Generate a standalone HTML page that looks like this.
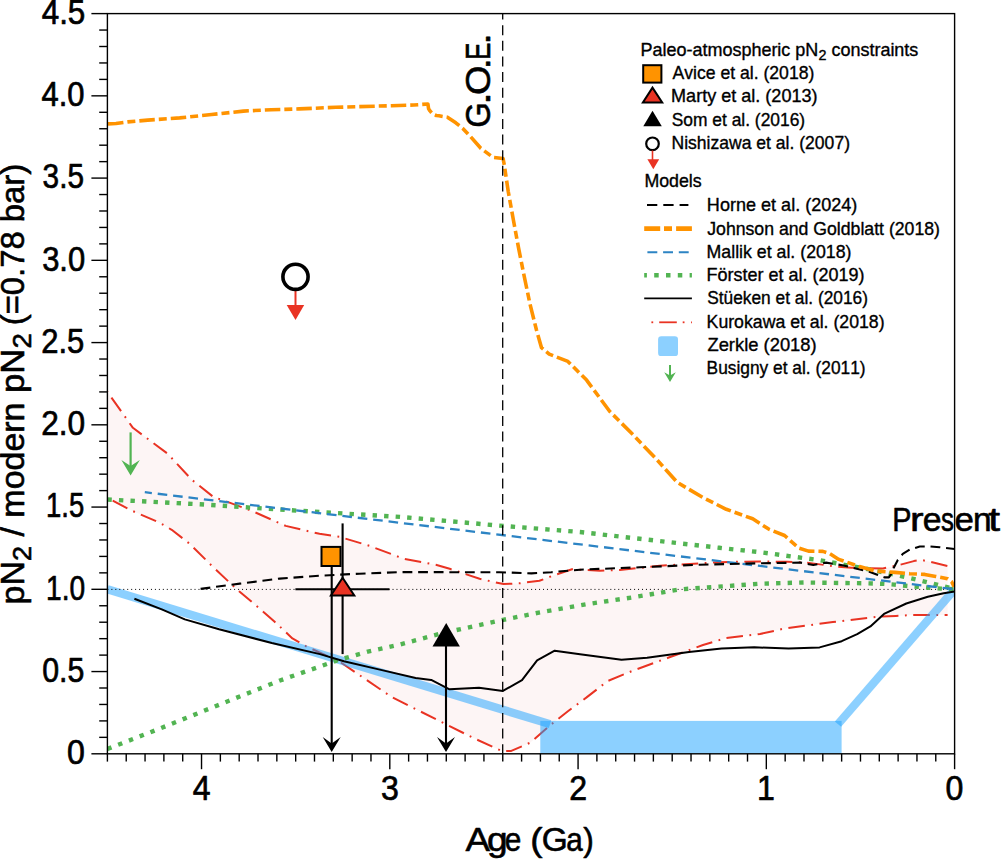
<!DOCTYPE html><html><head><meta charset="utf-8"><style>html,body{margin:0;padding:0;background:#fff}svg{display:block}text{font-kerning:none}</style></head><body>
<svg width="1004" height="859" viewBox="0 0 1004 859" font-family="Liberation Sans">
<rect width="1004" height="859" fill="#fff"/>
<defs><clipPath id="pc"><rect x="107.4" y="13.6" width="847.2" height="740.2"/></clipPath></defs>
<g clip-path="url(#pc)">
<polygon points="107.4,391.9 132.9,427.8 167.7,453.7 191.6,479.6 213.5,497.0 227.5,501.9 251.8,510.9 285.7,525.9 319.5,533.8 339.4,536.8 369.3,545.8 403.9,558.8 435.8,564.8 449.7,568.8 479.6,578.8 503.5,584.1 519.4,583.3 539.4,580.8 555.3,574.8 572.0,569.3 599.8,570.7 619.8,570.1 659.6,565.7 719.4,562.2 760.0,561.4 787.8,561.8 806.9,562.6 824.5,565.0 835.6,566.6 851.6,567.7 867.5,568.2 882.9,568.4 889.9,566.9 897.8,565.4 913.8,561.1 920.8,559.9 928.7,561.4 947.6,566.0 947.6,615.1 911.9,615.1 895.9,615.9 881.5,616.4 832.9,622.0 784.2,628.6 760.0,634.0 726.3,638.0 703.0,645.0 668.1,657.8 633.1,670.6 607.5,681.1 586.6,697.4 567.9,711.3 551.6,724.1 530.4,742.6 511.3,750.9 501.7,750.9 473.0,737.8 444.3,723.4 391.7,697.1 339.1,661.3 306.2,646.4 292.4,638.4 274.1,621.2 259.4,608.4 239.4,591.5 229.5,582.5 211.6,565.6 189.6,543.7 171.7,529.8 159.8,522.8 129.9,509.8 107.4,497.9" fill="#FDF5F5"/>
<polyline points="107.4,391.9 132.9,427.8 167.7,453.7 191.6,479.6 213.5,497.0 227.5,501.9 251.8,510.9 285.7,525.9 319.5,533.8 339.4,536.8 369.3,545.8 403.9,558.8 435.8,564.8 449.7,568.8 479.6,578.8 503.5,584.1 519.4,583.3 539.4,580.8 555.3,574.8 572.0,569.3 599.8,570.7 619.8,570.1 659.6,565.7 719.4,562.2 760.0,561.4 787.8,561.8 806.9,562.6 824.5,565.0 835.6,566.6 851.6,567.7 867.5,568.2 882.9,568.4 889.9,566.9 897.8,565.4 913.8,561.1 920.8,559.9 928.7,561.4 947.6,566.0" fill="none" stroke="#E93323" stroke-width="2" stroke-dasharray="16.6 6.5 1.8 6.5" stroke-dashoffset="-7" stroke-linejoin="round"/>
<polyline points="107.4,497.9 129.9,509.8 159.8,522.8 171.7,529.8 189.6,543.7 211.6,565.6 229.5,582.5 239.4,591.5 259.4,608.4 274.1,621.2 292.4,638.4 306.2,646.4 339.1,661.3 391.7,697.1 444.3,723.4 473.0,737.8 501.7,750.9 511.3,750.9 530.4,742.6 551.6,724.1 567.9,711.3 586.6,697.4 607.5,681.1 633.1,670.6 668.1,657.8 703.0,645.0 726.3,638.0 760.0,634.0 784.2,628.6 832.9,622.0 881.5,616.4 895.9,615.9 911.9,615.1 947.6,615.1" fill="none" stroke="#E93323" stroke-width="2" stroke-dasharray="16.6 6.5 1.8 6.5" stroke-dashoffset="-6" stroke-linejoin="round"/>
<g opacity="1"><rect x="540.3" y="720.9" width="301.3" height="32.9" fill="rgba(25,161,255,0.5)"/>
<line x1="107.4" y1="589.3" x2="550" y2="724.1" stroke="rgba(25,161,255,0.5)" stroke-width="8.3"/>
<line x1="838" y1="724.1" x2="954.6" y2="589.3" stroke="rgba(25,161,255,0.5)" stroke-width="8.3"/></g>
<line x1="107.4" y1="589.4" x2="954.6" y2="589.4" stroke="#000" stroke-width="1" stroke-dasharray="1 2.96"/>
<polyline points="107.4,499.5 200.0,504.3 299.6,510.8 400.0,516.9 499.5,525.6 580.0,532.0 639.7,538.8 719.4,547.8 760.0,552.2 819.7,560.2 867.5,569.0 904.8,576.9 927.7,582.3 939.7,585.3 954.6,589.0" fill="none" stroke="#52B452" stroke-width="4.4" stroke-dasharray="4.4 7.15"/>
<polyline points="107.4,749.0 160.0,728.5 219.5,704.6 279.3,680.7 339.0,659.8 367.8,651.7 398.8,644.8 439.5,633.8 499.3,620.6 540.0,612.4 586.6,604.2 633.1,597.3 679.7,589.4 726.3,586.1 760.0,583.7 803.7,582.5 867.5,583.3 882.9,583.8 894.4,584.6 905.8,585.8 917.8,586.8 929.7,587.8 941.2,588.6 954.6,589.2" fill="none" stroke="#52B452" stroke-width="4.4" stroke-dasharray="4.4 7.15"/>
<polyline points="144.8,492.2 954.6,589.3" fill="none" stroke="#2C84C4" stroke-width="2.3" stroke-dasharray="9.6 5.9" stroke-dashoffset="2.5"/>
<polyline points="134.4,598.8 161.8,609.4 184.8,619.4 219.1,629.3 271.8,643.0 320.0,654.1 343.9,661.3 379.8,669.6 415.6,678.0 431.2,679.9 449.5,689.3 479.0,687.7 502.9,690.9 522.0,680.2 537.1,660.3 554.7,650.7 580.0,654.2 621.5,659.7 647.1,657.8 689.0,652.0 721.6,648.5 754.2,647.3 788.6,648.5 819.6,647.4 841.7,641.2 857.2,634.1 870.4,626.4 884.0,613.9 906.3,603.5 927.8,596.8 943.7,593.2 954.6,591.4" fill="none" stroke="#000" stroke-width="2" stroke-linejoin="round"/>
<polyline points="200.6,588.9 239.8,583.6 279.7,578.6 319.5,575.7 359.4,573.7 400.0,572.1 459.7,572.2 499.5,572.2 531.4,573.4 551.3,572.2 580.0,569.7 639.7,567.3 699.4,564.7 760.0,563.3 800.6,562.6 813.3,565.0 826.1,562.6 843.6,565.5 861.1,569.8 870.0,571.9 877.9,574.9 884.9,577.4 888.9,577.4 890.9,574.4 893.9,567.4 897.8,559.9 902.8,553.9 909.8,549.5 919.8,546.5 929.7,546.5 939.7,547.2 954.6,549.0" fill="none" stroke="#000" stroke-width="2.1" stroke-dasharray="9.8 5.8" stroke-linejoin="round"/>
<polyline points="108.0,123.9 116.0,123.5 127.9,121.9 147.8,120.1 179.7,117.9 211.6,114.5 243.4,111.1 271.3,109.7 299.2,108.9 335.8,107.3 391.5,105.7 413.9,105.0 427.9,104.0 428.6,108.8 430.0,110.9 432.8,114.1 436.3,115.5 439.0,115.8 447.4,117.2 455.8,122.8 462.8,128.4 470.0,136.0 480.8,148.3 493.3,157.5 503.1,158.5 504.4,165.6 508.2,191.3 513.3,219.5 518.5,247.7 523.6,273.3 530.0,304.1 536.4,329.7 541.5,347.7 549.2,354.1 567.9,361.4 586.6,380.1 609.8,411.5 633.1,434.8 656.4,459.2 677.4,482.5 703.0,497.6 726.3,509.3 752.7,518.8 768.7,529.1 784.6,535.5 792.6,542.7 799.0,548.2 808.5,551.1 822.9,551.4 829.2,553.3 838.8,559.4 859.5,566.6 875.5,571.0 894.9,572.4 909.8,573.7 924.7,574.4 935.7,576.4 947.6,578.8 951.6,581.8 954.1,586.8" fill="none" stroke="#FF9300" stroke-width="3.6" stroke-dasharray="15.5 4 8 4" stroke-linejoin="round"/>
</g>
<line x1="502.7" y1="13.6" x2="502.7" y2="753.8" stroke="#000" stroke-width="1.3" stroke-dasharray="10 5.63" stroke-dashoffset="4.03"/>
<line x1="331.7" y1="566" x2="331.7" y2="745.8000000000001" stroke="#000" stroke-width="2.1"/>
<polygon points="322.7,737.1 331.7,752.1 340.7,737.1 331.7,743.4" fill="#000"/>
<line x1="446" y1="646" x2="446" y2="745.8000000000001" stroke="#000" stroke-width="2.1"/>
<polygon points="437.0,737.1 446,752.1 455.0,737.1 446,743.4" fill="#000"/>
<line x1="342.6" y1="523.4" x2="342.6" y2="654.1" stroke="#000" stroke-width="2.1"/>
<line x1="295.4" y1="589.3" x2="389.5" y2="589.3" stroke="#000" stroke-width="2.1"/>
<rect x="321.5" y="546.9" width="19" height="19.1" fill="#FF9300" stroke="#000" stroke-width="2"/>
<polygon points="342.6,577.8 330.9,595.4 354.3,595.4" fill="#E93323" stroke="#000" stroke-width="2" stroke-linejoin="miter"/>
<polygon points="446.2,623.1 432.5,646.6 459.9,646.6" fill="#000"/>
<line x1="295.5" y1="290" x2="295.5" y2="306" stroke="#E93323" stroke-width="2"/>
<polygon points="286.7,305.1 304.2,305.1 295.5,320.1" fill="#E93323"/>
<circle cx="295.5" cy="276.8" r="12.6" fill="none" stroke="#000" stroke-width="3.6"/>
<line x1="130.6" y1="432.4" x2="130.6" y2="469.6" stroke="#52B452" stroke-width="2.2"/>
<polygon points="121.39999999999999,460.1 130.6,475.6 139.79999999999998,460.1 130.6,466.1" fill="#52B452"/>
<g stroke="#000" stroke-width="1.4" fill="none">
<rect x="107.4" y="13.6" width="847.2" height="740.2"/>
<line x1="91.4" y1="753.80" x2="107.4" y2="753.80"/>
<line x1="99.2" y1="737.35" x2="107.4" y2="737.35"/>
<line x1="99.2" y1="720.90" x2="107.4" y2="720.90"/>
<line x1="99.2" y1="704.45" x2="107.4" y2="704.45"/>
<line x1="99.2" y1="688.00" x2="107.4" y2="688.00"/>
<line x1="91.4" y1="671.56" x2="107.4" y2="671.56"/>
<line x1="99.2" y1="655.11" x2="107.4" y2="655.11"/>
<line x1="99.2" y1="638.66" x2="107.4" y2="638.66"/>
<line x1="99.2" y1="622.21" x2="107.4" y2="622.21"/>
<line x1="99.2" y1="605.76" x2="107.4" y2="605.76"/>
<line x1="91.4" y1="589.31" x2="107.4" y2="589.31"/>
<line x1="99.2" y1="572.86" x2="107.4" y2="572.86"/>
<line x1="99.2" y1="556.41" x2="107.4" y2="556.41"/>
<line x1="99.2" y1="539.96" x2="107.4" y2="539.96"/>
<line x1="99.2" y1="523.52" x2="107.4" y2="523.52"/>
<line x1="91.4" y1="507.07" x2="107.4" y2="507.07"/>
<line x1="99.2" y1="490.62" x2="107.4" y2="490.62"/>
<line x1="99.2" y1="474.17" x2="107.4" y2="474.17"/>
<line x1="99.2" y1="457.72" x2="107.4" y2="457.72"/>
<line x1="99.2" y1="441.27" x2="107.4" y2="441.27"/>
<line x1="91.4" y1="424.82" x2="107.4" y2="424.82"/>
<line x1="99.2" y1="408.37" x2="107.4" y2="408.37"/>
<line x1="99.2" y1="391.92" x2="107.4" y2="391.92"/>
<line x1="99.2" y1="375.48" x2="107.4" y2="375.48"/>
<line x1="99.2" y1="359.03" x2="107.4" y2="359.03"/>
<line x1="91.4" y1="342.58" x2="107.4" y2="342.58"/>
<line x1="99.2" y1="326.13" x2="107.4" y2="326.13"/>
<line x1="99.2" y1="309.68" x2="107.4" y2="309.68"/>
<line x1="99.2" y1="293.23" x2="107.4" y2="293.23"/>
<line x1="99.2" y1="276.78" x2="107.4" y2="276.78"/>
<line x1="91.4" y1="260.33" x2="107.4" y2="260.33"/>
<line x1="99.2" y1="243.88" x2="107.4" y2="243.88"/>
<line x1="99.2" y1="227.44" x2="107.4" y2="227.44"/>
<line x1="99.2" y1="210.99" x2="107.4" y2="210.99"/>
<line x1="99.2" y1="194.54" x2="107.4" y2="194.54"/>
<line x1="91.4" y1="178.09" x2="107.4" y2="178.09"/>
<line x1="99.2" y1="161.64" x2="107.4" y2="161.64"/>
<line x1="99.2" y1="145.19" x2="107.4" y2="145.19"/>
<line x1="99.2" y1="128.74" x2="107.4" y2="128.74"/>
<line x1="99.2" y1="112.29" x2="107.4" y2="112.29"/>
<line x1="91.4" y1="95.84" x2="107.4" y2="95.84"/>
<line x1="99.2" y1="79.40" x2="107.4" y2="79.40"/>
<line x1="99.2" y1="62.95" x2="107.4" y2="62.95"/>
<line x1="99.2" y1="46.50" x2="107.4" y2="46.50"/>
<line x1="99.2" y1="30.05" x2="107.4" y2="30.05"/>
<line x1="91.4" y1="13.60" x2="107.4" y2="13.60"/>
<line x1="954.60" y1="753.8" x2="954.60" y2="769.2"/>
<line x1="935.77" y1="753.8" x2="935.77" y2="761.6"/>
<line x1="916.95" y1="753.8" x2="916.95" y2="761.6"/>
<line x1="898.12" y1="753.8" x2="898.12" y2="761.6"/>
<line x1="879.29" y1="753.8" x2="879.29" y2="761.6"/>
<line x1="860.47" y1="753.8" x2="860.47" y2="761.6"/>
<line x1="841.64" y1="753.8" x2="841.64" y2="761.6"/>
<line x1="822.81" y1="753.8" x2="822.81" y2="761.6"/>
<line x1="803.99" y1="753.8" x2="803.99" y2="761.6"/>
<line x1="785.16" y1="753.8" x2="785.16" y2="761.6"/>
<line x1="766.33" y1="753.8" x2="766.33" y2="769.2"/>
<line x1="747.51" y1="753.8" x2="747.51" y2="761.6"/>
<line x1="728.68" y1="753.8" x2="728.68" y2="761.6"/>
<line x1="709.85" y1="753.8" x2="709.85" y2="761.6"/>
<line x1="691.03" y1="753.8" x2="691.03" y2="761.6"/>
<line x1="672.20" y1="753.8" x2="672.20" y2="761.6"/>
<line x1="653.37" y1="753.8" x2="653.37" y2="761.6"/>
<line x1="634.55" y1="753.8" x2="634.55" y2="761.6"/>
<line x1="615.72" y1="753.8" x2="615.72" y2="761.6"/>
<line x1="596.89" y1="753.8" x2="596.89" y2="761.6"/>
<line x1="578.07" y1="753.8" x2="578.07" y2="769.2"/>
<line x1="559.24" y1="753.8" x2="559.24" y2="761.6"/>
<line x1="540.41" y1="753.8" x2="540.41" y2="761.6"/>
<line x1="521.59" y1="753.8" x2="521.59" y2="761.6"/>
<line x1="502.76" y1="753.8" x2="502.76" y2="761.6"/>
<line x1="483.93" y1="753.8" x2="483.93" y2="761.6"/>
<line x1="465.11" y1="753.8" x2="465.11" y2="761.6"/>
<line x1="446.28" y1="753.8" x2="446.28" y2="761.6"/>
<line x1="427.45" y1="753.8" x2="427.45" y2="761.6"/>
<line x1="408.63" y1="753.8" x2="408.63" y2="761.6"/>
<line x1="389.80" y1="753.8" x2="389.80" y2="769.2"/>
<line x1="370.97" y1="753.8" x2="370.97" y2="761.6"/>
<line x1="352.15" y1="753.8" x2="352.15" y2="761.6"/>
<line x1="333.32" y1="753.8" x2="333.32" y2="761.6"/>
<line x1="314.49" y1="753.8" x2="314.49" y2="761.6"/>
<line x1="295.67" y1="753.8" x2="295.67" y2="761.6"/>
<line x1="276.84" y1="753.8" x2="276.84" y2="761.6"/>
<line x1="258.01" y1="753.8" x2="258.01" y2="761.6"/>
<line x1="239.19" y1="753.8" x2="239.19" y2="761.6"/>
<line x1="220.36" y1="753.8" x2="220.36" y2="761.6"/>
<line x1="201.53" y1="753.8" x2="201.53" y2="769.2"/>
<line x1="182.71" y1="753.8" x2="182.71" y2="761.6"/>
<line x1="163.88" y1="753.8" x2="163.88" y2="761.6"/>
<line x1="145.05" y1="753.8" x2="145.05" y2="761.6"/>
<line x1="126.23" y1="753.8" x2="126.23" y2="761.6"/>
<line x1="107.40" y1="753.8" x2="107.40" y2="761.6"/>
</g>
<g transform="translate(68.20,764.20) scale(0.9193,1) translate(-1.40,0)" fill="#000" stroke="#000" stroke-width="0.7" stroke-linejoin="round" ><text x="0.00" y="0.00" font-size="34.90" xml:space="preserve">0</text></g>
<g transform="translate(43.40,681.96) scale(0.8683,1) translate(-1.40,0)" fill="#000" stroke="#000" stroke-width="0.7" stroke-linejoin="round" ><text x="0.00" y="0.00" font-size="34.90" xml:space="preserve">0.5</text></g>
<g transform="translate(48.10,599.71) scale(0.8059,1) translate(-2.62,0)" fill="#000" stroke="#000" stroke-width="0.7" stroke-linejoin="round" ><text x="0.00" y="0.00" font-size="34.90" xml:space="preserve">1.0</text></g>
<g transform="translate(48.10,517.47) scale(0.7866,1) translate(-2.62,0)" fill="#000" stroke="#000" stroke-width="0.7" stroke-linejoin="round" ><text x="0.00" y="0.00" font-size="34.90" xml:space="preserve">1.5</text></g>
<g transform="translate(42.80,435.22) scale(0.9068,1) translate(-1.74,0)" fill="#000" stroke="#000" stroke-width="0.7" stroke-linejoin="round" ><text x="0.00" y="0.00" font-size="34.90" xml:space="preserve">2.0</text></g>
<g transform="translate(42.80,352.98) scale(0.8883,1) translate(-1.74,0)" fill="#000" stroke="#000" stroke-width="0.7" stroke-linejoin="round" ><text x="0.00" y="0.00" font-size="34.90" xml:space="preserve">2.5</text></g>
<g transform="translate(43.40,270.73) scale(0.8868,1) translate(-1.40,0)" fill="#000" stroke="#000" stroke-width="0.7" stroke-linejoin="round" ><text x="0.00" y="0.00" font-size="34.90" xml:space="preserve">3.0</text></g>
<g transform="translate(43.80,188.49) scale(0.8530,1) translate(-1.40,0)" fill="#000" stroke="#000" stroke-width="0.7" stroke-linejoin="round" ><text x="0.00" y="0.00" font-size="34.90" xml:space="preserve">3.5</text></g>
<g transform="translate(42.20,106.24) scale(0.8864,1) translate(-0.70,0)" fill="#000" stroke="#000" stroke-width="0.7" stroke-linejoin="round" ><text x="0.00" y="0.00" font-size="34.90" xml:space="preserve">4.0</text></g>
<g transform="translate(42.30,24.00) scale(0.9005,1) translate(-0.70,0)" fill="#000" stroke="#000" stroke-width="0.7" stroke-linejoin="round" ><text x="0.00" y="0.00" font-size="34.90" xml:space="preserve">4.5</text></g>
<g transform="translate(946.89,799.70) scale(0.9200,1) translate(-1.40,0)" fill="#000" stroke="#000" stroke-width="0.7" stroke-linejoin="round" ><text x="0.00" y="0.00" font-size="34.90" xml:space="preserve">0</text></g>
<g transform="translate(759.35,799.70) scale(0.9200,1) translate(-2.62,0)" fill="#000" stroke="#000" stroke-width="0.7" stroke-linejoin="round" ><text x="0.00" y="0.00" font-size="34.90" xml:space="preserve">1</text></g>
<g transform="translate(570.76,799.70) scale(0.9200,1) translate(-1.74,0)" fill="#000" stroke="#000" stroke-width="0.7" stroke-linejoin="round" ><text x="0.00" y="0.00" font-size="34.90" xml:space="preserve">2</text></g>
<g transform="translate(382.17,799.70) scale(0.9200,1) translate(-1.40,0)" fill="#000" stroke="#000" stroke-width="0.7" stroke-linejoin="round" ><text x="0.00" y="0.00" font-size="34.90" xml:space="preserve">3</text></g>
<g transform="translate(193.43,799.70) scale(0.9200,1) translate(-0.70,0)" fill="#000" stroke="#000" stroke-width="0.7" stroke-linejoin="round" ><text x="0.00" y="0.00" font-size="34.90" xml:space="preserve">4</text></g>
<g transform="translate(465.60,850.70) scale(1.0953,1) translate(-0.00,0)" fill="#000" stroke="#000" stroke-width="0.6" stroke-linejoin="round" ><text x="0.00" y="0.00" font-size="33.50" xml:space="preserve">A</text></g>
<g transform="translate(488.60,850.70) scale(1.1078,1) translate(-1.34,0)" fill="#000" stroke="#000" stroke-width="0.6" stroke-linejoin="round" ><text x="0.00" y="0.00" font-size="33.50" xml:space="preserve">g</text></g>
<g transform="translate(506.00,850.70) scale(0.8892,1) translate(-1.34,0)" fill="#000" stroke="#000" stroke-width="0.6" stroke-linejoin="round" ><text x="0.00" y="0.00" font-size="33.50" xml:space="preserve">e</text></g>
<g transform="translate(532.50,850.70) scale(1.1039,1) translate(-2.01,0)" fill="#000" stroke="#000" stroke-width="0.6" stroke-linejoin="round" ><text x="0.00" y="0.00" font-size="33.50" xml:space="preserve">(</text></g>
<g transform="translate(543.40,850.70) scale(0.9981,1) translate(-1.68,0)" fill="#000" stroke="#000" stroke-width="0.6" stroke-linejoin="round" ><text x="0.00" y="0.00" font-size="33.50" xml:space="preserve">G</text></g>
<g transform="translate(567.40,850.70) scale(0.8868,1) translate(-1.34,0)" fill="#000" stroke="#000" stroke-width="0.6" stroke-linejoin="round" ><text x="0.00" y="0.00" font-size="33.50" xml:space="preserve">a</text></g>
<g transform="translate(583.40,850.70) scale(0.9462,1) translate(-0.17,0)" fill="#000" stroke="#000" stroke-width="0.6" stroke-linejoin="round" ><text x="0.00" y="0.00" font-size="33.50" xml:space="preserve">)</text></g>
<g transform="translate(24.20,602.20) rotate(-90) scale(1.0286,1) translate(-2.15,0)" fill="#000" stroke="#000" stroke-width="0.6" stroke-linejoin="round" ><text x="0.00" y="0.00" font-size="33.00" xml:space="preserve">pN</text><text x="42.19" y="6.60" font-size="26.40" xml:space="preserve">2</text><text x="56.87" y="0.00" font-size="33.00" xml:space="preserve"> / modern</text></g>
<g transform="translate(24.20,390.70) rotate(-90) scale(1.0530,1) translate(-2.15,0)" fill="#000" stroke="#000" stroke-width="0.6" stroke-linejoin="round" ><text x="0.00" y="0.00" font-size="33.00" xml:space="preserve">pN</text><text x="42.19" y="6.60" font-size="26.40" xml:space="preserve">2</text></g>
<g transform="translate(24.20,323.30) rotate(-90) scale(0.9954,1) translate(-1.98,0)" fill="#000" stroke="#000" stroke-width="0.6" stroke-linejoin="round" ><text x="0.00" y="0.00" font-size="33.00" xml:space="preserve">(=0.78 bar)</text></g>
<g transform="translate(490.30,126.00) rotate(-90) scale(0.9378,1) translate(-1.75,0)" fill="#000" stroke="#000" stroke-width="0.6" stroke-linejoin="round" ><text x="0.00" y="0.00" font-size="35.00" xml:space="preserve">G</text></g>
<g transform="translate(490.30,101.00) rotate(-90) scale(1.3835,1) translate(-3.15,0)" fill="#000" stroke="#000" stroke-width="0.6" stroke-linejoin="round" ><text x="0.00" y="0.00" font-size="35.00" xml:space="preserve">.</text></g>
<g transform="translate(490.30,93.40) rotate(-90) scale(1.0886,1) translate(-1.57,0)" fill="#000" stroke="#000" stroke-width="0.6" stroke-linejoin="round" ><text x="0.00" y="0.00" font-size="35.00" xml:space="preserve">O</text></g>
<g transform="translate(490.30,65.90) rotate(-90) scale(1.1729,1) translate(-3.15,0)" fill="#000" stroke="#000" stroke-width="0.6" stroke-linejoin="round" ><text x="0.00" y="0.00" font-size="35.00" xml:space="preserve">.</text></g>
<g transform="translate(490.30,57.90) rotate(-90) scale(0.7444,1) translate(-2.80,0)" fill="#000" stroke="#000" stroke-width="0.6" stroke-linejoin="round" ><text x="0.00" y="0.00" font-size="35.00" xml:space="preserve">E</text></g>
<g transform="translate(490.30,41.00) rotate(-90) scale(1.2030,1) translate(-3.15,0)" fill="#000" stroke="#000" stroke-width="0.6" stroke-linejoin="round" ><text x="0.00" y="0.00" font-size="35.00" xml:space="preserve">.</text></g>
<g transform="translate(894.50,530.70) scale(0.8593,1) translate(-2.68,0)" fill="#000" stroke="#000" stroke-width="0.6" stroke-linejoin="round" ><text x="0.00" y="0.00" font-size="33.50" xml:space="preserve">P</text></g>
<g transform="translate(912.70,530.70) scale(1.2179,1) translate(-2.18,0)" fill="#000" stroke="#000" stroke-width="0.6" stroke-linejoin="round" ><text x="0.00" y="0.00" font-size="33.50" xml:space="preserve">r</text></g>
<g transform="translate(924.10,530.70) scale(1.0098,1) translate(-1.34,0)" fill="#000" stroke="#000" stroke-width="0.6" stroke-linejoin="round" ><text x="0.00" y="0.00" font-size="33.50" xml:space="preserve">e</text></g>
<g transform="translate(941.70,530.70) scale(0.7754,1) translate(-1.01,0)" fill="#000" stroke="#000" stroke-width="0.6" stroke-linejoin="round" ><text x="0.00" y="0.00" font-size="33.50" xml:space="preserve">s</text></g>
<g transform="translate(955.90,530.70) scale(1.0416,1) translate(-1.34,0)" fill="#000" stroke="#000" stroke-width="0.6" stroke-linejoin="round" ><text x="0.00" y="0.00" font-size="33.50" xml:space="preserve">e</text></g>
<g transform="translate(975.20,530.70) scale(0.9974,1) translate(-2.18,0)" fill="#000" stroke="#000" stroke-width="0.6" stroke-linejoin="round" ><text x="0.00" y="0.00" font-size="33.50" xml:space="preserve">n</text></g>
<g transform="translate(988.80,530.70) scale(1.2643,1) translate(-0.50,0)" fill="#000" stroke="#000" stroke-width="0.6" stroke-linejoin="round" ><text x="0.00" y="0.00" font-size="33.50" xml:space="preserve">t</text></g>
<g transform="translate(641.90,55.90) scale(0.9993,1) translate(-1.44,0)" fill="#000" stroke="#000" stroke-width="0.35" stroke-linejoin="round" ><text x="0.00" y="0.00" font-size="18.00" xml:space="preserve">Paleo-atmospheric pN</text><text x="178.09" y="3.60" font-size="14.40" xml:space="preserve">2</text><text x="186.10" y="0.00" font-size="18.00" xml:space="preserve"> constraints</text></g>
<g transform="translate(672.50,79.00) scale(0.9781,1) translate(-0.00,0)" fill="#000" stroke="#000" stroke-width="0.35" stroke-linejoin="round" ><text x="0.00" y="0.00" font-size="18.00" xml:space="preserve">Avice et al. (2018)</text></g>
<g transform="translate(672.50,102.40) scale(1.0038,1) translate(-1.44,0)" fill="#000" stroke="#000" stroke-width="0.35" stroke-linejoin="round" ><text x="0.00" y="0.00" font-size="18.00" xml:space="preserve">Marty et al. (2013)</text></g>
<g transform="translate(672.50,125.80) scale(0.9672,1) translate(-0.81,0)" fill="#000" stroke="#000" stroke-width="0.35" stroke-linejoin="round" ><text x="0.00" y="0.00" font-size="18.00" xml:space="preserve">Som et al. (2016)</text></g>
<g transform="translate(672.90,149.40) scale(0.9760,1) translate(-1.44,0)" fill="#000" stroke="#000" stroke-width="0.35" stroke-linejoin="round" ><text x="0.00" y="0.00" font-size="18.00" xml:space="preserve">Nishizawa et al. (2007)</text></g>
<g transform="translate(645.80,187.20) scale(0.9879,1) translate(-1.44,0)" fill="#000" stroke="#000" stroke-width="0.35" stroke-linejoin="round" ><text x="0.00" y="0.00" font-size="18.00" xml:space="preserve">Models</text></g>
<g transform="translate(708.30,211.00) scale(1.0040,1) translate(-1.44,0)" fill="#000" stroke="#000" stroke-width="0.35" stroke-linejoin="round" ><text x="0.00" y="0.00" font-size="18.00" xml:space="preserve">Horne et al. (2024)</text></g>
<g transform="translate(707.50,234.70) scale(0.9818,1) translate(-0.27,0)" fill="#000" stroke="#000" stroke-width="0.35" stroke-linejoin="round" ><text x="0.00" y="0.00" font-size="18.00" xml:space="preserve">Johnson and Goldblatt (2018)</text></g>
<g transform="translate(708.00,257.50) scale(0.9865,1) translate(-1.44,0)" fill="#000" stroke="#000" stroke-width="0.35" stroke-linejoin="round" ><text x="0.00" y="0.00" font-size="18.00" xml:space="preserve">Mallik et al. (2018)</text></g>
<g transform="translate(708.00,280.90) scale(0.9992,1) translate(-1.44,0)" fill="#000" stroke="#000" stroke-width="0.35" stroke-linejoin="round" ><text x="0.00" y="0.00" font-size="18.00" xml:space="preserve">Förster et al. (2019)</text></g>
<g transform="translate(708.00,304.00) scale(0.9622,1) translate(-0.81,0)" fill="#000" stroke="#000" stroke-width="0.35" stroke-linejoin="round" ><text x="0.00" y="0.00" font-size="18.00" xml:space="preserve">Stüeken et al. (2016)</text></g>
<g transform="translate(708.00,327.90) scale(0.9834,1) translate(-1.44,0)" fill="#000" stroke="#000" stroke-width="0.35" stroke-linejoin="round" ><text x="0.00" y="0.00" font-size="18.00" xml:space="preserve">Kurokawa et al. (2018)</text></g>
<g transform="translate(708.00,351.30) scale(1.0210,1) translate(-0.54,0)" fill="#000" stroke="#000" stroke-width="0.35" stroke-linejoin="round" ><text x="0.00" y="0.00" font-size="18.00" xml:space="preserve">Zerkle (2018)</text></g>
<g transform="translate(708.00,374.10) scale(0.9641,1) translate(-1.44,0)" fill="#000" stroke="#000" stroke-width="0.35" stroke-linejoin="round" ><text x="0.00" y="0.00" font-size="18.00" xml:space="preserve">Busigny et al. (2011)</text></g>
<rect x="643.2" y="65.2" width="18.2" height="17.4" fill="#FF9300" stroke="#000" stroke-width="2"/>
<polygon points="652.5,87.6 642.9,102.5 662.2,102.5" fill="#E93323" stroke="#000" stroke-width="2"/>
<polygon points="652.5,110.7 643.3,126.2 661.8,126.2" fill="#000"/>
<circle cx="652.5" cy="143.8" r="6.3" fill="none" stroke="#000" stroke-width="2.2"/>
<line x1="652.5" y1="150.5" x2="652.5" y2="160" stroke="#E93323" stroke-width="1.6"/>
<polygon points="647.4,159.3 659.2,159.3 653.3,169.3" fill="#E93323"/>
<line x1="647" y1="205" x2="688.4" y2="205" stroke="#000" stroke-width="1.9" stroke-dasharray="10.3 6"/>
<line x1="644.2" y1="228.6" x2="691.9" y2="228.6" stroke="#FF9300" stroke-width="4.6" stroke-dasharray="16 3.8 8 4.1"/>
<line x1="647.4" y1="252.2" x2="688.9" y2="252.2" stroke="#2C84C4" stroke-width="1.9" stroke-dasharray="9.9 5.8"/>
<line x1="644.2" y1="275.3" x2="691.9" y2="275.3" stroke="#52B452" stroke-width="4.5" stroke-dasharray="4.5 7.3" stroke-dashoffset="1.8"/>
<line x1="644.2" y1="298.4" x2="691.9" y2="298.4" stroke="#000" stroke-width="1.8"/>
<g stroke="#E93323" stroke-width="1.8"><line x1="651.4" y1="322.3" x2="653.2" y2="322.3"/><line x1="659.2" y1="322.3" x2="676.8" y2="322.3"/><line x1="682.7" y1="322.3" x2="684.5" y2="322.3"/><line x1="691" y1="322.3" x2="691.9" y2="322.3"/></g>
<rect x="658.1" y="336.3" width="19.9" height="19.8" rx="3.2" fill="#8CD0FF"/>
<line x1="670" y1="365" x2="670" y2="378.79999999999995" stroke="#52B452" stroke-width="2"/>
<polygon points="664.2,372.29999999999995 670,381.9 675.8,372.29999999999995 670,375.4" fill="#52B452"/>
</svg></body></html>
